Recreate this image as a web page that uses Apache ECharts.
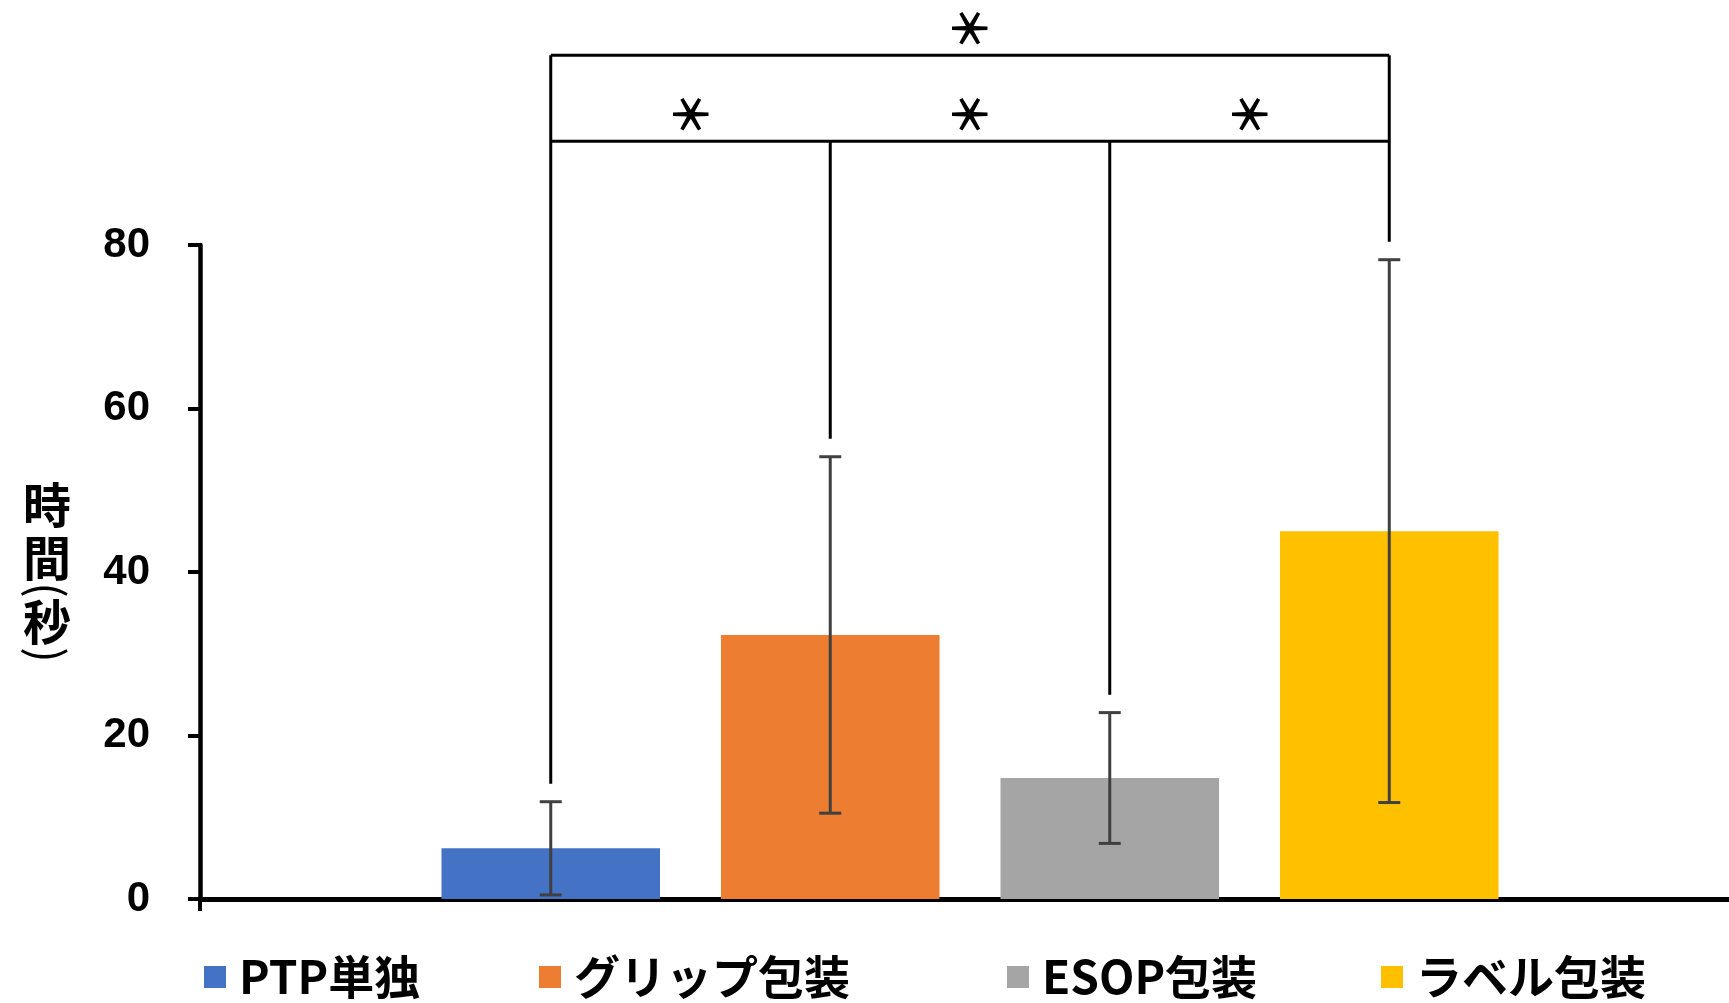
<!DOCTYPE html>
<html>
<head>
<meta charset="utf-8">
<title>包装形態別の取り出し時間</title>
<script src="https://cdn.jsdelivr.net/npm/echarts@6/dist/echarts.min.js"></script>
<style>
  html, body { margin: 0; padding: 0; background: #fff; }
  #chart { width: 1729px; height: 1003px; }
</style>
</head>
<body>
<div id="chart"></div>
<script>
// Packaging groups (one bar each) and the measured time in seconds
const categories = ['PTP単独', 'グリップ包装', 'ESOP包装', 'ラベル包装'];
const meanTimes = [6.2, 32.3, 14.8, 45.0];
const sdTimes = [5.7, 21.8, 8.0, 33.2];
const barColors = ['#4472C4', '#ED7D31', '#A5A5A5', '#FFC000'];
// Pairwise comparisons marked significant
const sigPairs = [[0, 1], [1, 2], [2, 3], [0, 3]];
const sigMark = '＊';

// Cluster layout shared by the bars and the overlays
const BAR_GAP = 0.279;
const CAT_GAP = 0.3136;
const N = categories.length;
// Bracket heights in axis units (drawn above the plot)
const LOWER_LEVEL = 92.7;
const UPPER_LEVEL = 103.2;
const STEM_GAP = 2.2;

function barCenterX(api, idx) {
  const c = api.coord([0, 0]);
  const band = api.size([1, 0])[0];
  const inner = band * (1 - CAT_GAP);
  const bw = inner / (N + (N - 1) * BAR_GAP);
  return c[0] - inner / 2 + idx * bw * (1 + BAR_GAP) + bw / 2;
}
function yPix(api, v) { return api.coord([0, v])[1]; }

const barSeries = categories.map((name, i) => ({
  name: name,
  type: 'bar',
  data: [meanTimes[i]],
  barGap: (BAR_GAP * 100) + '%',
  barCategoryGap: (CAT_GAP * 100) + '%',
  itemStyle: { color: barColors[i] },
  z: 2
}));

const errorSeries = {
  type: 'custom',
  silent: true,
  z: 5,
  data: meanTimes.map((m, i) => [0, i, m - sdTimes[i], m + sdTimes[i]]),
  encode: { x: 0, y: [2, 3] },
  renderItem: function (params, api) {
    const idx = api.value(1);
    const x = barCenterX(api, idx);
    const yLo = yPix(api, api.value(2));
    const yHi = yPix(api, api.value(3));
    const cap = 11;
    const style = { stroke: '#404040', lineWidth: 3 };
    return {
      type: 'group',
      children: [
        { type: 'line', shape: { x1: x, y1: yLo, x2: x, y2: yHi }, style: style },
        { type: 'line', shape: { x1: x - cap, y1: yHi, x2: x + cap, y2: yHi }, style: style },
        { type: 'line', shape: { x1: x - cap, y1: yLo, x2: x + cap, y2: yLo }, style: style }
      ]
    };
  }
};

const sigSeries = {
  type: 'custom',
  silent: true,
  clip: false,
  z: 6,
  data: [[0]],
  renderItem: function (params, api) {
    const style = { stroke: '#000', lineWidth: 3 };
    const children = [];
    const xs = categories.map((_, i) => barCenterX(api, i));
    const yLow = yPix(api, LOWER_LEVEL);
    const yUp = yPix(api, UPPER_LEVEL);
    // stems rising from each error bar
    categories.forEach((_, i) => {
      const yStart = yPix(api, meanTimes[i] + sdTimes[i] + STEM_GAP);
      const yEnd = (i === 0 || i === N - 1) ? yUp : yLow;
      children.push({ type: 'line', shape: { x1: xs[i], y1: yStart, x2: xs[i], y2: yEnd }, style: style });
    });
    // horizontal brackets
    children.push({ type: 'line', shape: { x1: xs[0], y1: yLow, x2: xs[N - 1], y2: yLow }, style: style });
    children.push({ type: 'line', shape: { x1: xs[0], y1: yUp, x2: xs[N - 1], y2: yUp }, style: style });
    // significance marks
    sigPairs.forEach(([a, b]) => {
      const wide = (b - a) > 1;
      const cx = (xs[a] + xs[b]) / 2;
      const cy = (wide ? yUp : yLow) - 27;
      children.push({
        type: 'text',
        x: cx, y: cy,
        rotation: Math.PI / 2,
        style: {
          text: sigMark,
          fontFamily: 'Noto Sans CJK JP',
          fontWeight: 'bold',
          fontSize: 46,
          fill: '#000',
          align: 'center',
          verticalAlign: 'middle'
        }
      });
    });
    return { type: 'group', children: children };
  }
};

// One legend block per group so each swatch sits at its own place
const legendLefts = [199, 534, 1002, 1376];
const legends = categories.map((name, i) => ({
  data: [name],
  left: legendLefts[i],
  top: 949,
  icon: 'rect',
  itemWidth: 22,
  itemHeight: 22,
  selectedMode: false,
  textStyle: {
    fontFamily: 'Noto Sans CJK JP',
    fontWeight: 'bold',
    fontSize: 46,
    lineHeight: 46,
    color: '#000',
    padding: [0, 0, 0, 8]
  }
}));

// Vertical axis title: stacked characters, parentheses turned sideways
const titleFont = { fontFamily: 'Noto Sans CJK JP', fill: '#000', align: 'center', verticalAlign: 'middle' };
const axisTitle = [
  { text: '時', y: 505, size: 48, weight: 'bold', rot: 0 },
  { text: '間', y: 558, size: 48, weight: 'bold', rot: 0 },
  { text: '(', y: 590, size: 46, weight: 'normal', rot: -Math.PI / 2 },
  { text: '秒', y: 622, size: 48, weight: 'bold', rot: 0 },
  { text: ')', y: 655, size: 46, weight: 'normal', rot: -Math.PI / 2 }
].map(t => ({
  type: 'text',
  x: 47,
  y: t.y,
  rotation: t.rot,
  style: Object.assign({ text: t.text, fontSize: t.size, fontWeight: t.weight }, titleFont)
}));

const chart = echarts.init(document.getElementById('chart'));
chart.setOption({
  animation: false,
  backgroundColor: '#fff',
  grid: { left: 200, right: -11, top: 245, bottom: 104, containLabel: false, outerBoundsMode: 'none' },
  legend: legends,
  xAxis: {
    type: 'category',
    data: [''],
    axisLine: { lineStyle: { color: '#000', width: 5 } },
    axisTick: { show: true, length: 12, lineStyle: { color: '#000', width: 4 } },
    axisLabel: { show: false },
    splitLine: { show: false }
  },
  yAxis: {
    type: 'value',
    min: 0,
    max: 80,
    interval: 20,
    axisLine: { show: true, lineStyle: { color: '#000', width: 4.5 } },
    axisTick: { show: true, length: 12, lineStyle: { color: '#000', width: 4 } },
    axisLabel: {
      margin: 50,
      fontFamily: 'Liberation Sans',
      fontWeight: 'bold',
      fontSize: 42,
      color: '#000'
    },
    splitLine: { show: false }
  },
  graphic: axisTitle,
  series: barSeries.concat([errorSeries, sigSeries])
});
</script>
</body>
</html>
